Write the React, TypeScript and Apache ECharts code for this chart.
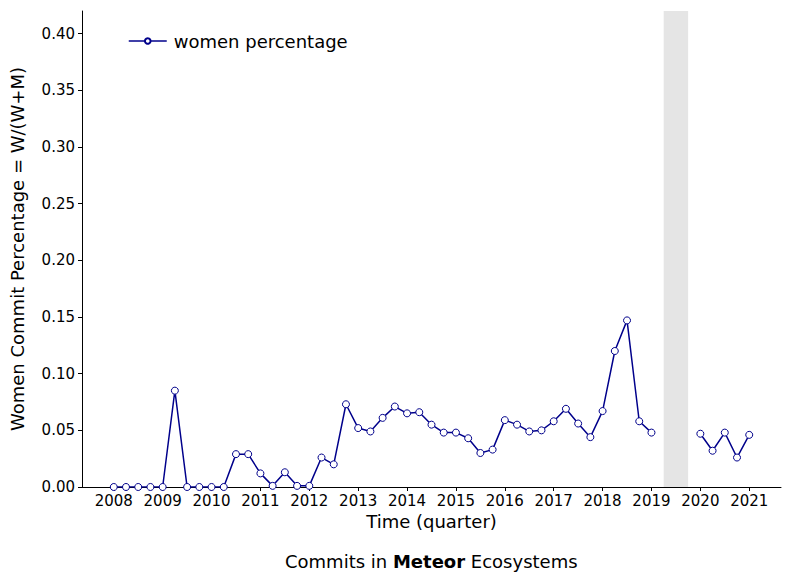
import React, { useEffect, useRef } from "react";
import * as echarts from "echarts";

const quarters: number[] = [
  2008.0, 2008.25, 2008.5, 2008.75, 2009.0, 2009.25, 2009.5, 2009.75,
  2010.0, 2010.25, 2010.5, 2010.75, 2011.0, 2011.25, 2011.5, 2011.75,
  2012.0, 2012.25, 2012.5, 2012.75, 2013.0, 2013.25, 2013.5, 2013.75,
  2014.0, 2014.25, 2014.5, 2014.75, 2015.0, 2015.25, 2015.5, 2015.75,
  2016.0, 2016.25, 2016.5, 2016.75, 2017.0, 2017.25, 2017.5, 2017.75,
  2018.0, 2018.25, 2018.5, 2018.75, 2019.0, 2019.25, 2019.5, 2019.75,
  2020.0, 2020.25, 2020.5, 2020.75, 2021.0,
];

const womenPct: (number | null)[] = [
  0, 0, 0, 0, 0, 0.085, 0, 0,
  0, 0, 0.029, 0.029, 0.012, 0.001, 0.013, 0.001,
  0.001, 0.026, 0.02, 0.073, 0.052, 0.049, 0.061, 0.071,
  0.065, 0.066, 0.055, 0.048, 0.048, 0.043, 0.03, 0.033,
  0.059, 0.055, 0.049, 0.05, 0.058, 0.069, 0.056, 0.044,
  0.067, 0.12, 0.147, 0.058, 0.048, null, null, null,
  0.047, 0.032, 0.048, 0.026, 0.046,
];

const yearTicks: number[] = [2008, 2009, 2010, 2011, 2012, 2013, 2014, 2015, 2016, 2017, 2018, 2019, 2020, 2021];
const shadedSpan: [number, number] = [2019.25, 2019.75];

const FONT = "DejaVu Sans";

export default function App() {
  const ref = useRef<HTMLDivElement>(null);
  useEffect(() => {
    document.body.style.margin = "0";
    if (!ref.current) return;
    const chart = echarts.init(ref.current, null, { renderer: "svg" });
    chart.setOption({
      animation: false,
      textStyle: { fontFamily: FONT },
      title: {
        text: "Commits in {b|Meteor} Ecosystems",
        left: 280,
        top: 547,
        textStyle: {
          fontFamily: FONT,
          fontSize: 18,
          fontWeight: "normal",
          color: "#000",
          rich: { b: { fontFamily: FONT, fontSize: 18, fontWeight: "bold", color: "#000" } },
        },
      },
      legend: {
        left: 123,
        top: 27,
        itemWidth: 38,
        itemHeight: 7,
        itemGap: 10,
        lineStyle: { width: 1.5 },
        textStyle: { fontFamily: FONT, fontSize: 18, color: "#000", padding: [0, 0, 0, 2] },
        data: ["women percentage"],
      },
      grid: { left: 82, right: 11, top: 11, bottom: 89 },
      xAxis: {
        type: "value",
        min: 2007.35,
        max: 2021.65,
        name: "Time (quarter)",
        nameLocation: "middle",
        nameGap: 24,
        nameTextStyle: { fontFamily: FONT, fontSize: 18, color: "#000" },
        axisLine: { lineStyle: { color: "#000", width: 1 } },
        axisTick: { show: true, length: 4, customValues: yearTicks, lineStyle: { color: "#000" } },
        axisLabel: {
          customValues: yearTicks,
          fontFamily: FONT,
          fontSize: 15,
          color: "#000",
          margin: 6,
          formatter: (v: number) => String(v),
        },
        splitLine: { show: false },
      },
      yAxis: {
        type: "value",
        min: 0,
        max: 0.42,
        interval: 0.05,
        name: "Women Commit Percentage = W/(W+M)",
        nameLocation: "middle",
        nameGap: 56,
        nameTextStyle: { fontFamily: FONT, fontSize: 18, color: "#000" },
        axisLine: { show: true, lineStyle: { color: "#000", width: 1 } },
        axisTick: { show: true, length: 4, lineStyle: { color: "#000" } },
        axisLabel: {
          fontFamily: FONT,
          fontSize: 15,
          color: "#000",
          margin: 7,
          formatter: (v: number) => v.toFixed(2),
          showMaxLabel: false,
        },
        splitLine: { show: false },
      },
      series: [
        {
          name: "women percentage",
          type: "line",
          data: quarters.map((q, i) => [q, womenPct[i]]),
          connectNulls: false,
          symbol: "circle",
          symbolSize: 7,
          showAllSymbol: true,
          lineStyle: { color: "#00008b", width: 1.5 },
          itemStyle: { color: "#fff", borderColor: "#00008b", borderWidth: 1 },
          markArea: {
            silent: true,
            itemStyle: { color: "#e5e5e5" },
            data: [[{ xAxis: shadedSpan[0] }, { xAxis: shadedSpan[1] }]],
          },
        },
      ],
    });
    return () => chart.dispose();
  }, []);
  return <div ref={ref} style={{ width: 792, height: 576 }} />;
}
